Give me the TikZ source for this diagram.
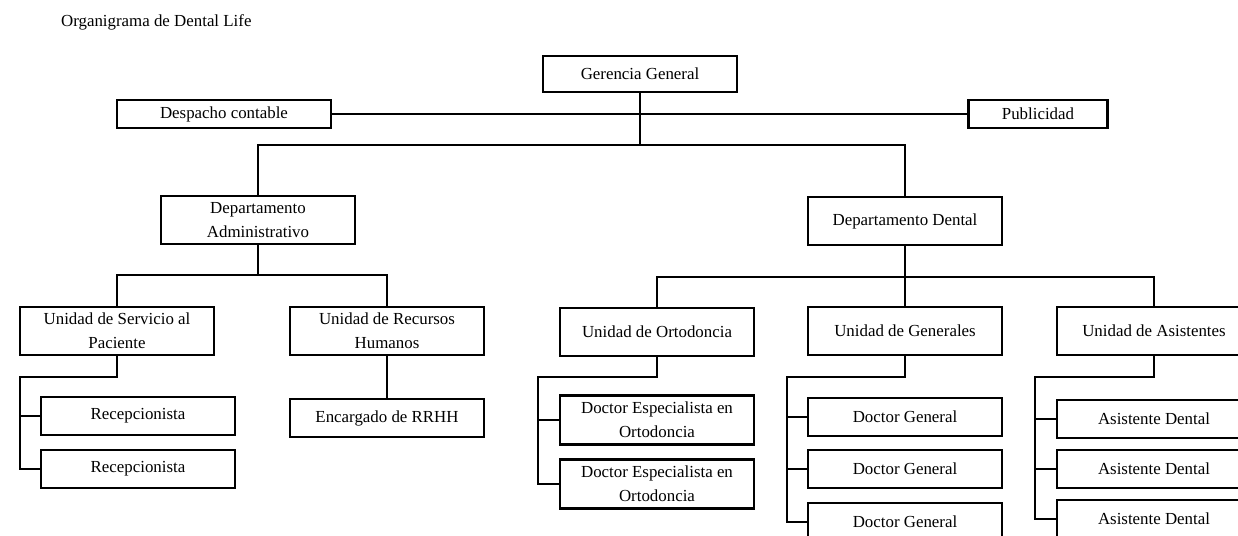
\documentclass[tikz,border=0pt]{standalone}
\usepackage{fontspec}
\setmainfont{Liberation Serif}

\begin{document}
\begin{tikzpicture}[x = 0.025cm, y = -0.025cm, line width = 1.6pt,
    every node/.style = {shape = rectangle, draw, line width = 1.6pt, align = center,
        inner sep = 0pt, minimum width = 4.85cm, font = \fontsize{12}{17}\selectfont},
    title/.style = {draw = none, minimum width = 0pt, anchor = west},
    side/.style = {minimum height = 0.7cm},
    unit/.style = {minimum height = 1.2cm},
    leaf/.style = {minimum height = 0.95cm}]
        \useasboundingbox (0,0) rectangle (1238,536);
        \clip (0,0) rectangle (1238,536);
        \node[title] (tit) at (60,22) {Organigrama de Dental Life};

        % direccion
        \node[minimum height = 0.9cm] (gg) at (640,74) {Gerencia General};
        \node[side, minimum width = 5.35cm] (dc) at (224,114) {Despacho contable};
        \node[side, minimum width = 3.475cm] (pub) at (1038,114) {Publicidad};
        \node[unit] (da) at (258,220) {Departamento\\Administrativo};
        \node[unit] (dd) at (905,221) {Departamento Dental};

        % administrativo
        \node[unit] (usp) at (117,331) {Unidad de Servicio al\\Paciente};
        \node[unit] (urh) at (387,331) {Unidad de Recursos\\Humanos};
        \node[leaf] (rec1) at (138,416) {Recepcionista};
        \node[leaf] (rec2) at (138,469) {Recepcionista};
        \node[leaf] (rrhh) at (387,418) {Encargado de RRHH};

        % dental
        \node[unit] (uor) at (657,332) {Unidad de Ortodoncia};
        \node[unit] (uge) at (905,331) {Unidad de Generales};
        \node[unit] (uas) at (1154,331) {Unidad de Asistentes};
        \node[minimum height = 1.225cm] (deo1) at (657,420) {Doctor Especialista en\\Ortodoncia};
        \node[minimum height = 1.225cm] (deo2) at (657,484) {Doctor Especialista en\\Ortodoncia};
        \node[leaf] (dg1) at (905,417) {Doctor General};
        \node[leaf] (dg2) at (905,469) {Doctor General};
        \node[leaf] (dg3) at (905,522) {Doctor General};
        \node[leaf] (ad1) at (1154,419) {Asistente Dental};
        \node[leaf] (ad2) at (1154,469) {Asistente Dental};
        \node[leaf] (ad3) at (1154,519) {Asistente Dental};

        % lineas
        \coordinate (j1) at (640,145);
        \coordinate (j2) at (258,275);
        \coordinate (j3) at (905,277);
        \coordinate (j4) at (20,377);
        \coordinate (j5) at (538,377);
        \coordinate (j6) at (787,377);
        \coordinate (j7) at (1035,377);
        \draw (dc.east) -- (pub.west);
        \draw (gg.south) -- (j1) -| (da.north);
        \draw (j1) -| (dd.north);
        \draw (da.south) -- (j2) -| (usp.north);
        \draw (j2) -| (urh.north);
        \draw (urh.south) -- (rrhh.north);
        \draw (usp.south) |- (j4) |- (rec2.west);
        \draw (j4) |- (rec1.west);
        \draw (dd.south) -- (j3) -| (uor.north);
        \draw (j3) -| (uas.north);
        \draw (j3) -- (uge.north);
        \draw (uor.south) |- (j5) |- (deo2.west);
        \draw (j5) |- (deo1.west);
        \draw (uge.south) |- (j6) |- (dg3.west);
        \draw (j6) |- (dg1.west);
        \draw (j6) |- (dg2.west);
        \draw (uas.south) |- (j7) |- (ad3.west);
        \draw (j7) |- (ad1.west);
        \draw (j7) |- (ad2.west);
\end{tikzpicture}
\end{document}
